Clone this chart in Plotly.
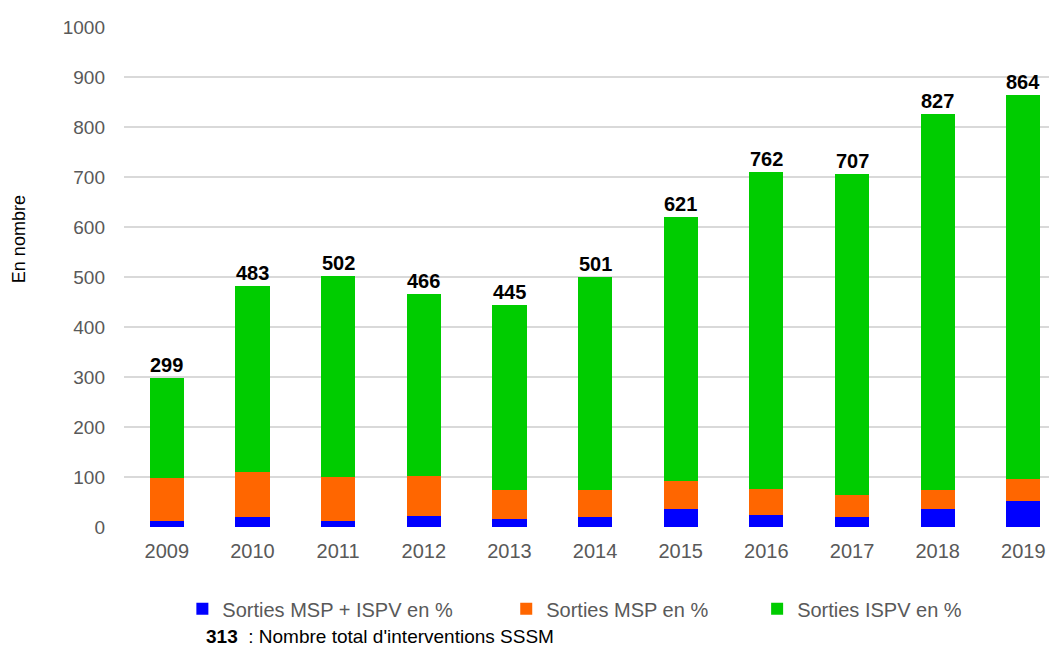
import plotly.graph_objects as go

years = ["2009", "2010", "2011", "2012", "2013", "2014", "2015", "2016", "2017", "2018", "2019"]
msp_ispv = [13, 21, 13, 23, 17, 21, 37, 25, 21, 37, 53]
msp = [85, 89, 87, 80, 58, 54, 55, 52, 44, 38, 44]
ispv = [201, 373, 402, 363, 370, 426, 529, 634, 642, 752, 767]
total_labels = [299, 483, 502, 466, 445, 501, 621, 762, 707, 827, 864]

series_names = ["Sorties MSP + ISPV en %", "Sorties MSP en %", "Sorties ISPV en %"]
series_colors = ["#0000FF", "#FF6600", "#00CC00"]
series_values = [msp_ispv, msp, ispv]

FONT = "Liberation Sans, Arial, sans-serif"
GREY = "#595959"

fig = go.Figure()
legend_ids = ["legend", "legend2", "legend3"]
for name, color, vals, lg in zip(series_names, series_colors, series_values, legend_ids):
    fig.add_trace(go.Bar(
        x=years, y=vals, name=name, marker=dict(color=color, line=dict(width=0)),
        width=0.4, legend=lg, hoverinfo="x+y+name",
    ))

stack_tops = [a + b + c for a, b, c in zip(msp_ispv, msp, ispv)]
annotations = []
for i, (top, lab) in enumerate(zip(stack_tops, total_labels)):
    annotations.append(dict(
        x=i, y=top, xref="x", yref="y", text=f"<b>{lab}</b>", showarrow=False,
        yanchor="bottom", xanchor="center", yshift=0,
        font=dict(family=FONT, size=20, color="#000000"),
    ))

W, H = 1057, 649
ML, MR, MT, MB = 123.6, 8, 27.3, 121.7

def px_x(px):
    return (px - ML) / (W - ML - MR)

def px_y(py):
    return (H - MB - py) / (H - MT - MB)

annotations.append(dict(
    x=px_x(18), y=px_y(239), xref="paper", yref="paper", text="En nombre", textangle=-90,
    showarrow=False, xanchor="center", yanchor="middle",
    font=dict(family=FONT, size=18, color="#000000"),
))
annotations.append(dict(
    x=px_x(204), y=px_y(637), xref="paper", yref="paper",
    text="<b>313</b>  : Nombre total d'interventions SSSM",
    showarrow=False, xanchor="left", yanchor="middle",
    font=dict(family=FONT, size=19, color="#000000"),
))

legend_common = dict(
    orientation="h", xanchor="left", yanchor="middle",
    font=dict(family=FONT, size=20, color=GREY),
    bgcolor="rgba(0,0,0,0)", borderwidth=0, itemclick=False, itemdoubleclick=False,
)
legend_x_px = [182, 506, 757]
legend_y_px = 609

fig.update_layout(
    width=W, height=H,
    margin=dict(l=ML, r=MR, t=MT, b=MB, pad=0),
    paper_bgcolor="white", plot_bgcolor="white",
    barmode="stack",
    font=dict(family=FONT, size=20, color=GREY),
    annotations=annotations,
    xaxis=dict(
        type="category", range=[-0.5, 10.3], showgrid=False, zeroline=False,
        showline=False, ticks="", tickfont=dict(family=FONT, size=20, color=GREY),
        ticklabelstandoff=10, fixedrange=True,
    ),
    yaxis=dict(
        range=[0, 1000], tickvals=[0, 100, 200, 300, 400, 500, 600, 700, 800, 900, 1000],
        showgrid=True, gridcolor="#D9D9D9", gridwidth=2, zeroline=False,
        showline=False, ticks="", tickfont=dict(family=FONT, size=19, color=GREY),
        ticklabelstandoff=18, fixedrange=True,
    ),
    legend=dict(x=px_x(legend_x_px[0]), y=px_y(legend_y_px), **legend_common),
    legend2=dict(x=px_x(legend_x_px[1]), y=px_y(legend_y_px), **legend_common),
    legend3=dict(x=px_x(legend_x_px[2]), y=px_y(legend_y_px), **legend_common),
    showlegend=True,
)

fig.write_html("out.html", post_script="document.body.style.margin='0';document.body.style.overflow='hidden';",
               config={"displayModeBar": False})
